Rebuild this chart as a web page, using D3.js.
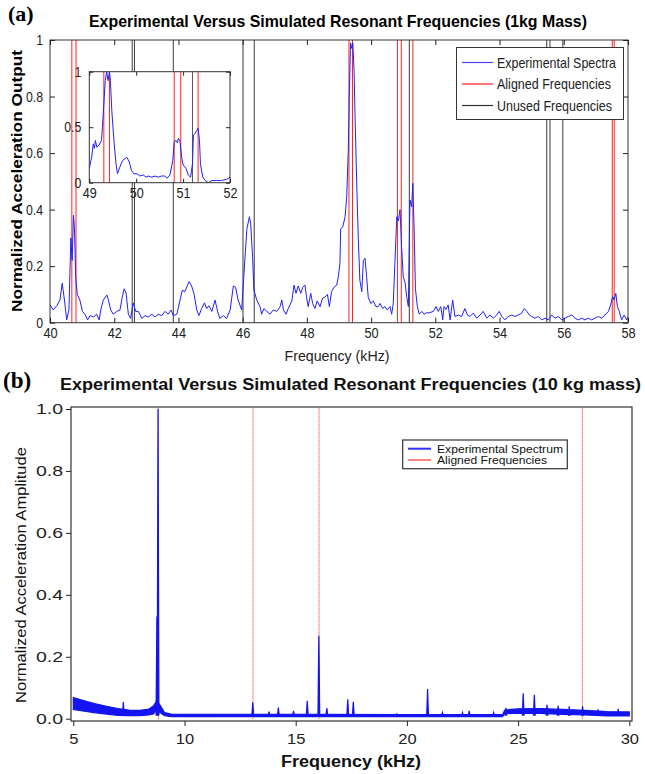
<!DOCTYPE html>
<html>
<head>
<meta charset="utf-8">
<script src="https://cdnjs.cloudflare.com/ajax/libs/d3/7.8.5/d3.min.js"></script>
<style>
  body { margin: 0; background: #fff; }
  svg { display: block; }
</style>
</head>
<body>
<script>
// ---- panel (a) data : 1 kg mass ----
var spectrumA = [
  [40.00,0.063],[40.10,0.045],[40.21,0.06],[40.31,0.08],[40.38,0.14],[40.45,0.08],[40.52,0.01],[40.59,0.045],
  [40.65,0.30],[40.69,0.22],[40.73,0.38],[40.76,0.34],[40.80,0.16],[40.85,0.10],[40.93,0.08],[41.01,0.04],
  [41.09,0.03],[41.17,0.01],[41.25,0.025],[41.35,0.02],[41.45,0.03],[41.53,0.01],[41.59,0.05],[41.66,0.08],
  [41.77,0.098],[41.82,0.08],[41.89,0.045],[41.97,0.03],[42.08,0.04],[42.18,0.045],[42.25,0.09],[42.31,0.12],
  [42.37,0.105],[42.44,0.03],[42.51,0.015],[42.59,0.07],[42.67,0.04],[42.75,0.04],[42.86,0.015],[42.96,0.025],
  [43.06,0.02],[43.17,0.03],[43.27,0.02],[43.37,0.03],[43.48,0.025],[43.58,0.04],[43.68,0.03],[43.77,0.045],
  [43.84,0.025],[43.95,0.03],[44.05,0.08],[44.12,0.115],[44.20,0.11],[44.33,0.145],[44.41,0.13],[44.49,0.10],
  [44.57,0.045],[44.64,0.025],[44.72,0.05],[44.81,0.07],[44.88,0.05],[44.95,0.06],[45.04,0.04],[45.14,0.08],
  [45.22,0.04],[45.29,0.015],[45.40,0.025],[45.50,0.015],[45.61,0.045],[45.71,0.13],[45.78,0.125],[45.86,0.08],
  [45.97,0.045],[46.05,0.19],[46.13,0.33],[46.21,0.375],[46.25,0.35],[46.31,0.23],[46.35,0.115],[46.44,0.08],
  [46.54,0.057],[46.59,0.03],[46.66,0.05],[46.75,0.04],[46.85,0.03],[46.95,0.045],[47.06,0.04],[47.16,0.055],
  [47.22,0.08],[47.27,0.045],[47.35,0.03],[47.42,0.05],[47.53,0.077],[47.60,0.133],[47.66,0.104],[47.73,0.13],
  [47.81,0.104],[47.87,0.125],[47.94,0.133],[47.99,0.09],[48.04,0.057],[48.12,0.104],[48.18,0.068],[48.25,0.05],
  [48.32,0.077],[48.41,0.057],[48.49,0.087],[48.56,0.09],[48.64,0.10],[48.70,0.057],[48.77,0.11],[48.84,0.125],
  [48.93,0.133],[48.98,0.163],[49.03,0.21],[49.05,0.33],[49.12,0.34],[49.19,0.375],[49.24,0.446],[49.29,0.61],
  [49.32,0.80],[49.36,0.99],[49.40,0.97],[49.43,0.99],[49.47,0.89],[49.50,0.73],[49.55,0.50],[49.60,0.30],
  [49.65,0.15],[49.71,0.11],[49.76,0.22],[49.81,0.228],[49.86,0.163],[49.91,0.09],[49.99,0.068],[50.07,0.077],
  [50.15,0.057],[50.22,0.057],[50.28,0.068],[50.36,0.05],[50.43,0.057],[50.50,0.045],[50.59,0.057],[50.64,0.03],
  [50.69,0.068],[50.74,0.21],[50.80,0.375],[50.85,0.36],[50.90,0.40],[50.95,0.27],[51.00,0.163],[51.06,0.14],
  [51.11,0.09],[51.16,0.057],[51.21,0.434],[51.26,0.41],[51.30,0.493],[51.34,0.33],[51.38,0.12],[51.44,0.057],
  [51.50,0.03],[51.58,0.04],[51.65,0.03],[51.73,0.035],[51.81,0.035],[51.94,0.04],[52.02,0.057],[52.09,0.04],
  [52.17,0.057],[52.23,0.01],[52.27,0.057],[52.33,0.047],[52.40,0.063],[52.46,0.01],[52.54,0.08],[52.61,0.022],
  [52.72,0.027],[52.82,0.022],[52.92,0.05],[53.00,0.027],[53.08,0.022],[53.18,0.034],[53.29,0.016],[53.39,0.027],
  [53.49,0.04],[53.60,0.016],[53.70,0.027],[53.81,0.016],[53.91,0.027],[53.99,0.04],[54.07,0.022],[54.17,0.01],
  [54.27,0.022],[54.38,0.027],[54.48,0.022],[54.58,0.027],[54.69,0.034],[54.77,0.05],[54.85,0.04],[54.93,0.027],
  [55.00,0.022],[55.10,0.016],[55.21,0.022],[55.31,0.01],[55.42,0.016],[55.52,0.01],[55.62,0.027],[55.73,0.016],
  [55.83,0.022],[55.94,0.01],[56.04,0.016],[56.14,0.022],[56.25,0.027],[56.35,0.016],[56.45,0.01],[56.56,0.016],
  [56.66,0.01],[56.76,0.016],[56.87,0.01],[56.97,0.016],[57.08,0.022],[57.18,0.016],[57.28,0.027],[57.39,0.04],
  [57.46,0.063],[57.52,0.092],[57.57,0.08],[57.62,0.104],[57.67,0.057],[57.73,0.04],[57.80,0.01],[57.88,0.027],
  [57.96,0.01],[58.00,0.02]
];
var alignedA = [40.68, 40.81, 49.31, 49.42, 50.82, 50.94, 51.30, 57.51, 57.57];
var unusedA = [42.56, 42.63, 43.84, 46.01, 46.36, 51.19, 55.47, 55.57, 55.97];
var xTicksA = [40, 42, 44, 46, 48, 50, 52, 54, 56, 58];
var yTicksA = [0, 0.2, 0.4, 0.6, 0.8, 1];
var yTickLabelsA = ["0", "0.2", "0.4", "0.6", "0.8", "1"];

// inset (zoom 49-52 kHz)
var spectrumInset = [
  [49.00,0.13],[49.05,0.23],[49.085,0.35],[49.11,0.31],[49.13,0.38],[49.16,0.32],[49.21,0.34],[49.26,0.38],
  [49.28,0.50],[49.31,0.71],[49.34,0.92],[49.37,1.0],[49.40,0.92],[49.43,1.0],[49.45,0.92],[49.48,0.65],
  [49.53,0.35],[49.57,0.17],[49.60,0.08],[49.65,0.14],[49.71,0.20],[49.80,0.23],[49.85,0.19],[49.90,0.11],
  [49.95,0.08],[50.02,0.08],[50.08,0.06],[50.15,0.07],[50.21,0.05],[50.26,0.06],[50.33,0.05],[50.40,0.06],
  [50.47,0.05],[50.54,0.06],[50.61,0.06],[50.66,0.04],[50.72,0.07],[50.78,0.20],[50.81,0.37],[50.85,0.38],
  [50.88,0.36],[50.90,0.40],[50.93,0.38],[50.97,0.23],[51.00,0.16],[51.06,0.13],[51.11,0.07],[51.16,0.05],
  [51.20,0.17],[51.22,0.43],[51.25,0.44],[51.29,0.47],[51.32,0.49],[51.35,0.38],[51.37,0.17],[51.42,0.05],
  [51.47,0.02],[51.54,0.0],[51.61,0.02],[51.72,0.02],[51.82,0.02],[51.93,0.03],[52.00,0.05]
];
var alignedInset = [49.31, 49.43, 50.81, 50.95, 51.32];
var unusedInset = [51.20];
var xTicksInset = [49, 50, 51, 52];
var yTicksInset = [0, 0.5, 1];
var yTickLabelsInset = ["0", "0.5", "1"];

// ---- panel (b) data : 10 kg mass ----
// envelope of the dense noise floor
var bandF  = [5.0, 5.5, 6.0, 6.5, 7.0, 7.5, 8.0, 8.4, 8.6, 8.75, 8.9, 9.1, 9.4, 12.0, 16.0, 20.0, 24.3, 24.4, 25.0, 26.0, 27.0, 28.0, 29.0, 30.0];
var bandLo = [0.030, 0.024, 0.019, 0.015, 0.011, 0.010, 0.010, 0.012, 0.015, 0.030, 0.020, 0.010, 0.007, 0.007, 0.007, 0.007, 0.007, 0.016, 0.018, 0.017, 0.014, 0.012, 0.009, 0.009];
var bandHi = [0.068, 0.058, 0.048, 0.040, 0.033, 0.028, 0.027, 0.031, 0.041, 0.058, 0.044, 0.020, 0.015, 0.014, 0.014, 0.013, 0.013, 0.028, 0.032, 0.033, 0.030, 0.027, 0.023, 0.022];
// narrow resonance peaks
var spikeF = [7.25, 8.76, 8.81, 13.07, 13.8, 14.22, 14.9, 15.52, 16.04, 16.4, 17.34, 17.59, 19.55, 20.93, 21.6, 22.5, 22.8, 23.9, 24.45, 25.23, 25.73, 26.3, 26.8, 27.3, 27.9, 28.6, 29.5];
var spikeV = [0.054, 0.33, 1.0, 0.053, 0.023, 0.036, 0.025, 0.058, 0.268, 0.034, 0.063, 0.055, 0.015, 0.096, 0.02, 0.02, 0.025, 0.02, 0.035, 0.082, 0.077, 0.045, 0.042, 0.04, 0.04, 0.03, 0.032];
var alignedB = [8.82, 13.08, 16.05, 27.89];
var xTicksB = [5, 10, 15, 20, 25, 30];
var yTicksB = [0, 0.2, 0.4, 0.6, 0.8, 1.0];
var yTickLabelsB = ["0.0", "0.2", "0.4", "0.6", "0.8", "1.0"];

var sans = "'Liberation Sans', Arial, sans-serif";
var serif = "'Liberation Serif', 'Times New Roman', serif";

var svg = d3.select("body").append("svg")
    .attr("width", 645)
    .attr("height", 774);
var defs = svg.append("defs");

drawPanelA();
drawPanelB();

// squeeze / stretch text horizontally (the reference uses a narrow face in panel a)
function condense(sel, k) {
    sel.each(function() {
        var len = this.getComputedTextLength();
        d3.select(this).attr("textLength", len * k).attr("lengthAdjust", "spacingAndGlyphs");
    });
}

function fitText(sel, w) {
    sel.attr("textLength", w).attr("lengthAdjust", "spacingAndGlyphs");
}

function vlines(g, values, x, y0, y1, color, dash) {
    g.selectAll(null)
        .data(values)
        .enter().append("line")
        .attr("x1", function(d) { return x(d); })
        .attr("x2", function(d) { return x(d); })
        .attr("y1", y0)
        .attr("y2", y1)
        .attr("stroke", color)
        .attr("stroke-width", 1)
        .attr("stroke-dasharray", dash || null);
}

function styleAxis(sel, size, color) {
    sel.select(".domain").remove();
    sel.selectAll("line").attr("stroke", color);
    sel.selectAll("text")
        .attr("fill", color)
        .style("font-family", sans)
        .style("font-size", size + "px");
}

function drawPanelA() {
    var x = d3.scaleLinear().domain([40, 58]).range([50, 628]);
    var y = d3.scaleLinear().domain([0, 1]).range([322.7, 40]);
    var g = svg.append("g");

    defs.append("clipPath").attr("id", "clipA")
        .append("rect").attr("x", 50).attr("y", 40).attr("width", 578).attr("height", 282.7);

    var plot = g.append("g").attr("clip-path", "url(#clipA)");
    vlines(plot, alignedA, x, y(0), y(1), "#ff2222");
    vlines(plot, unusedA, x, y(0), y(1), "#3a3a3a");

    var line = d3.line()
        .x(function(d) { return x(d[0]); })
        .y(function(d) { return y(d[1]); });

    plot.append("path")
        .datum(spectrumA)
        .attr("d", line)
        .attr("fill", "none")
        .attr("stroke", "#2020ff")
        .attr("stroke-width", 1);

    g.append("rect")
        .attr("x", 50).attr("y", 40).attr("width", 578).attr("height", 282.7)
        .attr("fill", "none").attr("stroke", "#333");

    // inward ticks on all four sides
    var ax = g.append("g").attr("transform", "translate(0," + y(0) + ")")
        .call(d3.axisBottom(x).tickValues(xTicksA).tickSize(-5).tickPadding(5).tickFormat(d3.format("d")));
    styleAxis(ax, 14.5, "#222");
    condense(ax.selectAll("text"), 0.88);
    var axt = g.append("g").attr("transform", "translate(0," + y(1) + ")")
        .call(d3.axisTop(x).tickValues(xTicksA).tickSize(-5).tickFormat(""));
    styleAxis(axt, 15, "#222");
    var ay = g.append("g").attr("transform", "translate(" + x(40) + ",0)")
        .call(d3.axisLeft(y).tickValues(yTicksA).tickSize(-5).tickPadding(7)
            .tickFormat(function(d, i) { return yTickLabelsA[i]; }));
    styleAxis(ay, 15, "#222");
    condense(ay.selectAll("text"), 0.82);
    var ayr = g.append("g").attr("transform", "translate(" + x(58) + ",0)")
        .call(d3.axisRight(y).tickValues(yTicksA).tickSize(-5).tickFormat(""));
    styleAxis(ayr, 15, "#222");

    // inset
    var xi = d3.scaleLinear().domain([49, 52]).range([89.3, 230]);
    var yi = d3.scaleLinear().domain([0, 1]).range([182.7, 71.7]);
    var inset = g.append("g");
    inset.append("rect")
        .attr("x", 89.3).attr("y", 71.7).attr("width", 140.7).attr("height", 111)
        .attr("fill", "#fff");
    defs.append("clipPath").attr("id", "clipI")
        .append("rect").attr("x", 89.3).attr("y", 71.7).attr("width", 140.7).attr("height", 111);
    var iplot = inset.append("g").attr("clip-path", "url(#clipI)");
    vlines(iplot, alignedInset, xi, yi(0), yi(1), "#ff2222");
    vlines(iplot, unusedInset, xi, yi(0), yi(1), "#555");
    var iline = d3.line()
        .x(function(d) { return xi(d[0]); })
        .y(function(d) { return yi(d[1]); });
    iplot.append("path")
        .datum(spectrumInset)
        .attr("d", iline)
        .attr("fill", "none")
        .attr("stroke", "#2020ff")
        .attr("stroke-width", 1);
    inset.append("rect")
        .attr("x", 89.3).attr("y", 71.7).attr("width", 140.7).attr("height", 111)
        .attr("fill", "none").attr("stroke", "#333");
    var ix = inset.append("g").attr("transform", "translate(0," + yi(0) + ")")
        .call(d3.axisBottom(xi).tickValues(xTicksInset).tickSize(-4).tickPadding(5).tickFormat(d3.format("d")));
    styleAxis(ix, 14, "#222");
    condense(ix.selectAll("text"), 0.9);
    var ixt = inset.append("g").attr("transform", "translate(0," + yi(1) + ")")
        .call(d3.axisTop(xi).tickValues(xTicksInset).tickSize(-4).tickFormat(""));
    styleAxis(ixt, 15, "#222");
    var iy = inset.append("g").attr("transform", "translate(" + xi(49) + ",0)")
        .call(d3.axisLeft(yi).tickValues(yTicksInset).tickSize(-4).tickPadding(8)
            .tickFormat(function(d, i) { return yTickLabelsInset[i]; }));
    styleAxis(iy, 14.5, "#222");
    condense(iy.selectAll("text"), 0.85);
    var iyr = inset.append("g").attr("transform", "translate(" + xi(52) + ",0)")
        .call(d3.axisRight(yi).tickValues(yTicksInset).tickSize(-4).tickFormat(""));
    styleAxis(iyr, 15, "#222");

    // legend
    var lg = g.append("g");
    lg.append("rect")
        .attr("x", 456.5).attr("y", 47.5).attr("width", 167).attr("height", 72)
        .attr("fill", "#fff").attr("stroke", "#333");
    var items = [["Experimental Spectra", "#4545ff", 119], ["Aligned Frequencies", "#ff1a1a", 114], ["Unused Frequencies", "#333", 115]];
    items.forEach(function(it, i) {
        var yy = 62.5 + i * 21.5;
        lg.append("line").attr("x1", 462).attr("x2", 493).attr("y1", yy).attr("y2", yy)
            .attr("stroke", it[1]).attr("stroke-width", 1.2);
        var t = lg.append("text").attr("x", 497).attr("y", yy).attr("dy", "0.36em")
            .attr("fill", "#222")
            .style("font-family", sans).style("font-size", "15px")
            .text(it[0]);
        fitText(t, it[2]);
    });

    // titles and labels
    g.append("text").attr("x", 8).attr("y", 21)
        .style("font-family", serif).style("font-weight", "bold").style("font-size", "22px")
        .text("(a)");
    var title = g.append("text").attr("x", 338).attr("y", 27).attr("text-anchor", "middle")
        .style("font-family", sans).style("font-weight", "bold").style("font-size", "17px")
        .text("Experimental Versus Simulated Resonant Frequencies (1kg Mass)");
    fitText(title, 498);
    var xl = g.append("text").attr("x", 337).attr("y", 361).attr("text-anchor", "middle")
        .attr("fill", "#222")
        .style("font-family", sans).style("font-size", "15px")
        .text("Frequency (kHz)");
    fitText(xl, 105);
    var yl = g.append("text").attr("transform", "translate(22,181) rotate(-90)").attr("text-anchor", "middle")
        .style("font-family", sans).style("font-weight", "bold").style("font-size", "15px")
        .text("Normalized Acceleration Output");
    fitText(yl, 262);
}

function drawPanelB() {
    var x = d3.scaleLinear().domain([5, 30]).range([73.3, 629.3]);
    var y = d3.scaleLinear().domain([0, 1]).range([718.7, 409]);
    var g = svg.append("g");

    g.append("rect")
        .attr("x", 71).attr("y", 407).attr("width", 561).attr("height", 314)
        .attr("fill", "none").attr("stroke", "#333").attr("stroke-width", 1.2);

    vlines(g, alignedB, x, y(0), y(1) - 1, "#ff1a1a", "1,1");

    // noise floor band
    var band = d3.area()
        .x(function(d, i) { return x(bandF[i]); })
        .y0(function(d, i) { return y(bandLo[i]); })
        .y1(function(d, i) { return y(bandHi[i]); });
    g.append("path")
        .datum(bandF)
        .attr("d", band)
        .attr("fill", "#1414f0")
        .attr("stroke", "#1414f0")
        .attr("stroke-width", 1.2);

    // peaks
    g.selectAll(null)
        .data(spikeF)
        .enter().append("path")
        .attr("d", function(d, i) {
            return "M" + x(d - 0.04) + "," + y(0.01) +
                   "L" + x(d) + "," + y(spikeV[i]) +
                   "L" + x(d + 0.04) + "," + y(0.01);
        })
        .attr("fill", "#1414f0")
        .attr("stroke", "#1414f0")
        .attr("stroke-width", 1.2);

    var ax = g.append("g").attr("transform", "translate(0,721)")
        .call(d3.axisBottom(x).tickValues(xTicksB).tickSize(5).tickPadding(7).tickFormat(d3.format("d")));
    styleAxis(ax, 15, "#222");
    condense(ax.selectAll("text"), 1.1);
    var ay = g.append("g").attr("transform", "translate(71,0)")
        .call(d3.axisLeft(y).tickValues(yTicksB).tickSize(5).tickPadding(3)
            .tickFormat(function(d, i) { return yTickLabelsB[i]; }));
    styleAxis(ay, 15, "#222");
    condense(ay.selectAll("text"), 1.3);

    // legend
    var lg = g.append("g");
    lg.append("rect")
        .attr("x", 402.7).attr("y", 440).attr("width", 164.6).attr("height", 28.7)
        .attr("fill", "#fff").attr("stroke", "#333").attr("stroke-width", 1.2);
    var items = [["Experimental Spectrum", "#3030ff", 2, 126], ["Aligned Frequencies", "#ff5a5a", 1.5, 110]];
    items.forEach(function(it, i) {
        var yy = 448.7 + i * 11.3;
        lg.append("line").attr("x1", 408).attr("x2", 431).attr("y1", yy).attr("y2", yy)
            .attr("stroke", it[1]).attr("stroke-width", it[2]);
        var t = lg.append("text").attr("x", 437).attr("y", yy).attr("dy", "0.35em")
            .attr("fill", "#111")
            .style("font-family", sans).style("font-size", "11px")
            .text(it[0]);
        fitText(t, it[3]);
    });

    g.append("text").attr("x", 3).attr("y", 388)
        .style("font-family", serif).style("font-weight", "bold").style("font-size", "23px")
        .text("(b)");
    var title = g.append("text").attr("x", 350.5).attr("y", 390).attr("text-anchor", "middle")
        .attr("fill", "#111")
        .style("font-family", sans).style("font-weight", "bold").style("font-size", "16px")
        .text("Experimental Versus Simulated Resonant Frequencies (10 kg mass)");
    fitText(title, 581);
    var xl = g.append("text").attr("x", 351).attr("y", 767).attr("text-anchor", "middle")
        .attr("fill", "#111")
        .style("font-family", sans).style("font-weight", "bold").style("font-size", "16px")
        .text("Frequency (kHz)");
    fitText(xl, 140);
    var yl = g.append("text").attr("transform", "translate(26,575) rotate(-90)").attr("text-anchor", "middle")
        .attr("fill", "#111")
        .style("font-family", sans).style("font-size", "15px")
        .text("Normalized Acceleration Amplitude");
    fitText(yl, 256);
}
</script>
</body>
</html>
